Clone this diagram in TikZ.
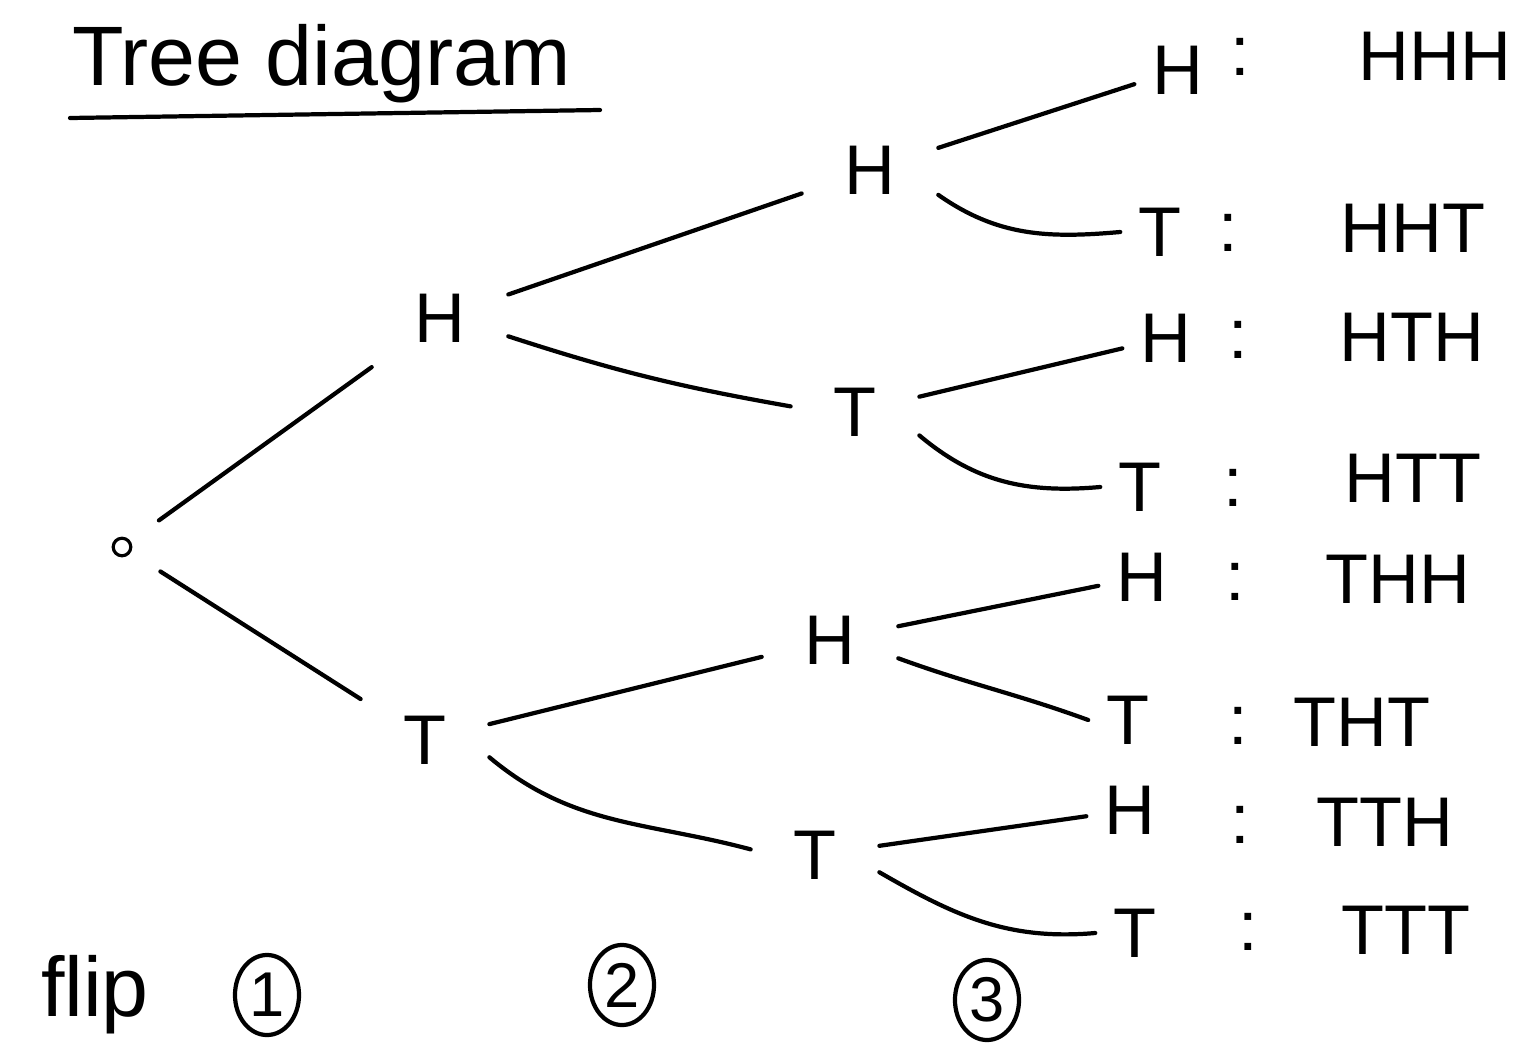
\documentclass[tikz,border=0pt]{standalone}
\usepackage{fontspec}
\setmainfont{Liberation Sans}
\usetikzlibrary{shapes.geometric}
\begin{document}
\begin{tikzpicture}[x=0.01cm,y=-0.01cm,
  ink/.style={line width=1.2pt,line cap=round},
  letter/.style={font=\fontsize{20}{24}\selectfont,inner sep=12pt},
  leaf/.style={font=\fontsize{20}{24}\selectfont,inner sep=5pt},
  txt/.style={font=\fontsize{20}{24}\selectfont,inner sep=1pt},
  num/.style={draw,ellipse,line width=1.2pt,minimum width=0.64cm,minimum height=0.8cm,inner sep=0pt,font=\fontsize{18}{20}\selectfont}]
\useasboundingbox (0,0) rectangle (1526,1057);
% title
\node[txt,font=\fontsize{24}{28}\selectfont,anchor=base west] (title) at (68,85) {Tree diagram};
\coordinate (ulA) at (70,118);
\coordinate (ulB) at (600,110);
\draw[ink] (ulA) -- (ulB);
% tree nodes
\node[draw,circle,minimum size=5pt,inner sep=0pt,line width=0.9pt] (root) at (122,547) {};
\node[letter] (h1) at (440,318) {H};
\node[letter] (t1) at (425,740) {T};
\node[letter] (hh) at (870,170) {H};
\node[letter] (ht) at (855,412) {T};
\node[letter] (th) at (830,640) {H};
\node[letter] (tt) at (815,855) {T};
\node[leaf] (hhh) at (1178,70) {H};
\node[leaf] (hht) at (1160,232) {T};
\node[leaf] (hth) at (1166,338) {H};
\node[leaf] (htt) at (1140,487) {T};
\node[leaf] (thh) at (1142,577) {H};
\node[leaf] (tht) at (1128,720) {T};
\node[leaf] (tth) at (1130,810) {H};
\node[leaf] (ttt) at (1135,933) {T};
% separators and outcomes
\node[txt] (c1) at (1240,57) {:};
\node[txt] (c2) at (1228,233) {:};
\node[txt] (c3) at (1238,340) {:};
\node[txt] (c4) at (1233,488) {:};
\node[txt] (c5) at (1235,582) {:};
\node[txt] (c6) at (1238,726) {:};
\node[txt] (c7) at (1240,825) {:};
\node[txt] (c8) at (1248,932) {:};
\node[txt] (o1) at (1435,56) {HHH};
\node[txt] (o2) at (1413,228) {HHT};
\node[txt] (o3) at (1412,337) {HTH};
\node[txt] (o4) at (1413,478) {HTT};
\node[txt] (o5) at (1398,579) {THH};
\node[txt] (o6) at (1362,722) {THT};
\node[txt] (o7) at (1385,822) {TTH};
\node[txt] (o8) at (1406,930) {TTT};
% connectors
\draw[ink,shorten <=10pt] (root) -- (h1);
\draw[ink,shorten <=10pt] (root) -- (t1);
\draw[ink] (h1) -- (hh);
\draw[ink] (h1.-15) to[out=-18,in=170] (ht.175);
\draw[ink] (t1) -- (th);
\draw[ink] (t1.-15) to[out=-40,in=165] (tt.175);
\draw[ink] (hh) -- (hhh);
\draw[ink] (hh.-20) to[out=-35,in=185] (hht.west);
\draw[ink] (ht) -- (hth);
\draw[ink] (ht.-20) to[out=-40,in=185] (htt.west);
\draw[ink] (th) -- (thh);
\draw[ink] (th.-15) to[out=-20,in=160] (tht.west);
\draw[ink] (tt) -- (tth);
\draw[ink] (tt.-15) to[out=-30,in=185] (ttt.west);
% flips
\node[txt,font=\fontsize{24}{28}\selectfont] (flip) at (95,995) {flip};
\node[num] (n1) at (267,995) {1};
\node[num] (n2) at (622,985) {2};
\node[num] (n3) at (987,1000) {3};
\end{tikzpicture}
\end{document}
